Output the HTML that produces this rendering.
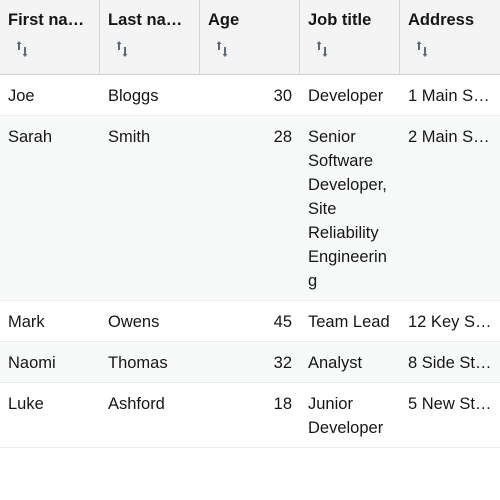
<!DOCTYPE html>
<html><head><meta charset="utf-8"><style>
*{box-sizing:border-box;margin:0;padding:0}
body{width:500px;height:500px;overflow:hidden;background:#fff;font-family:"Liberation Sans",sans-serif;font-size:16.5px;color:#161616}
.h{position:absolute;top:0;height:74px;width:100px;background:#f4f4f4;border-right:1px solid #d6d6d6;padding:10px 8px 0 8px}
.h .t{font-weight:bold;line-height:20px;white-space:nowrap;overflow:hidden;text-overflow:ellipsis;max-width:78px}
.h .s{position:absolute;left:17px;top:41px}
.hb{position:absolute;top:74px;left:0;width:500px;height:1px;background:#d0d0d0}
.r{position:absolute;left:0;width:500px;border-bottom:1px solid #e8eceb}
.c{position:absolute;top:9px;width:100px;padding:0 8px;line-height:24px}
.e{white-space:nowrap;overflow:hidden;text-overflow:ellipsis}
.n{text-align:right}
</style></head><body>
<svg width="0" height="0" style="position:absolute"><defs><g id="ar"><path d="M2 0 L4.5 3 H3 V9 H1 V3 H-0.5 Z" fill="#5f6b78"/><path d="M8 16 L10.5 13 H9 V6 H7 V13 H5.5 Z" fill="#5f6b78"/></g></defs></svg>
<div>
<div class="h" style="left:0"><div class="t">First name</div><svg class="s" width="12" height="16"><use href="#ar"/></svg></div>
<div class="h" style="left:100px"><div class="t">Last name</div><svg class="s" width="12" height="16"><use href="#ar"/></svg></div>
<div class="h" style="left:200px"><div class="t">Age</div><svg class="s" width="12" height="16"><use href="#ar"/></svg></div>
<div class="h" style="left:300px"><div class="t">Job title</div><svg class="s" width="12" height="16"><use href="#ar"/></svg></div>
<div class="h" style="left:400px;border-right:none"><div class="t">Address</div><svg class="s" width="12" height="16"><use href="#ar"/></svg></div>
<div class="hb"></div>

<div class="r" style="top:75px;height:41px;background:#fff">
<div class="c e" style="left:0">Joe</div><div class="c e" style="left:100px">Bloggs</div><div class="c n" style="left:200px">30</div><div class="c" style="left:300px">Developer</div><div class="c e" style="left:400px">1 Main Street</div></div>

<div class="r" style="top:116px;height:185px;background:#f8fafa">
<div class="c e" style="left:0">Sarah</div><div class="c e" style="left:100px">Smith</div><div class="c n" style="left:200px">28</div><div class="c" style="left:300px;word-break:break-all">Senior<br>Software<br>Developer,<br>Site<br>Reliability<br>Engineerin<br>g</div><div class="c e" style="left:400px">2 Main Street</div></div>

<div class="r" style="top:301px;height:41px;background:#fff">
<div class="c e" style="left:0">Mark</div><div class="c e" style="left:100px">Owens</div><div class="c n" style="left:200px">45</div><div class="c e" style="left:300px">Team Lead</div><div class="c e" style="left:400px">12 Key Street</div></div>

<div class="r" style="top:342px;height:41px;background:#f8fafa">
<div class="c e" style="left:0">Naomi</div><div class="c e" style="left:100px">Thomas</div><div class="c n" style="left:200px">32</div><div class="c" style="left:300px">Analyst</div><div class="c e" style="left:400px">8 Side Street</div></div>

<div class="r" style="top:383px;height:65px;background:#fff">
<div class="c e" style="left:0">Luke</div><div class="c e" style="left:100px">Ashford</div><div class="c n" style="left:200px">18</div><div class="c" style="left:300px">Junior<br>Developer</div><div class="c e" style="left:400px">5 New Street</div></div>
</div>
</body></html>
